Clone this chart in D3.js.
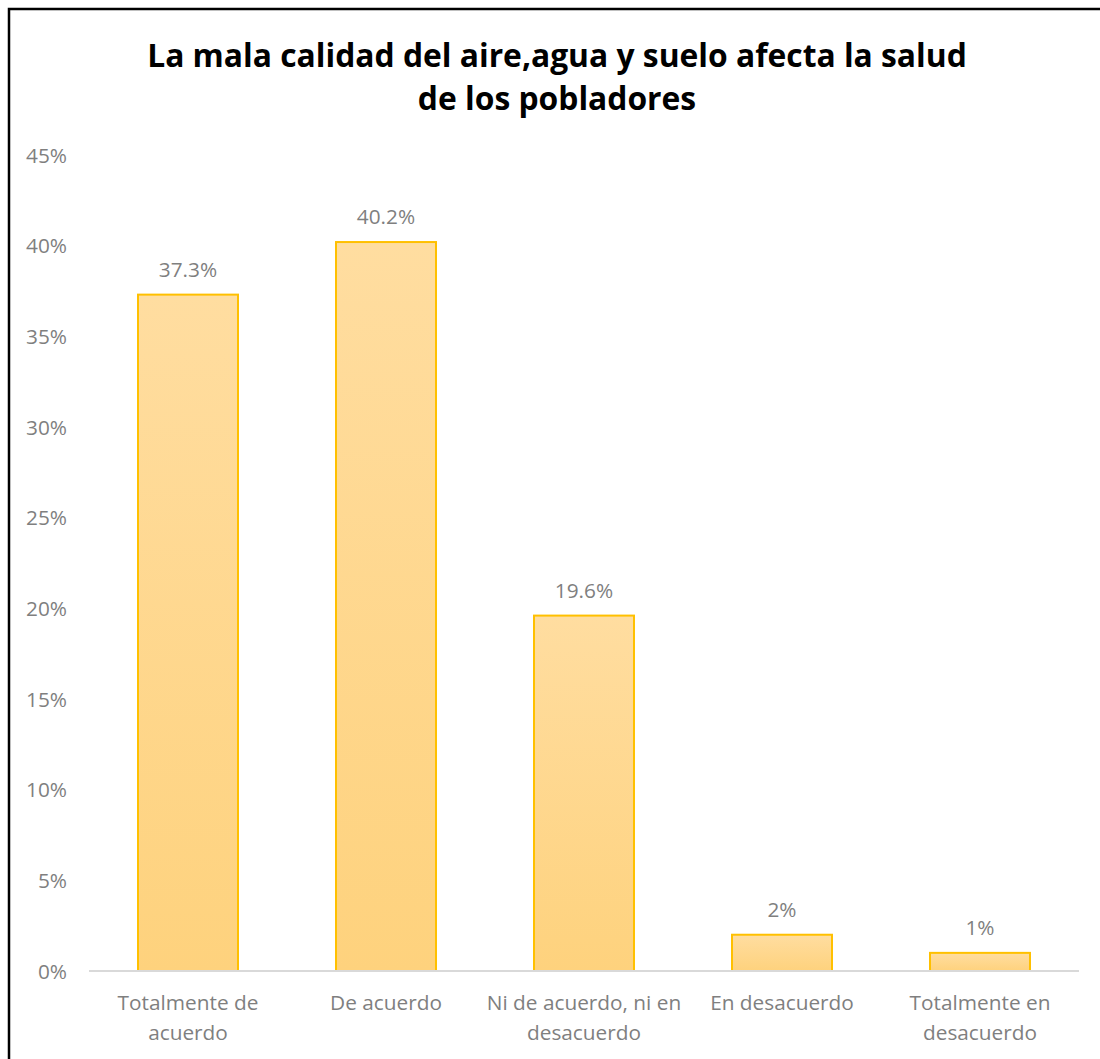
<!DOCTYPE html>
<html><head><meta charset="utf-8">
<script src="https://cdn.jsdelivr.net/npm/d3@7"></script>
<style>body{margin:0;background:#fff}svg{display:block}</style>
</head><body>
<script>
const categories = [["Totalmente de","acuerdo"],["De acuerdo"],["Ni de acuerdo, ni en","desacuerdo"],["En desacuerdo"],["Totalmente en","desacuerdo"]];
const values = [0.373, 0.402, 0.196, 0.02, 0.01];
const valueLabels = ["37.3%","40.2%","19.6%","2%","1%"];
const yTicks = [0,0.05,0.10,0.15,0.20,0.25,0.30,0.35,0.40,0.45];
const titleLines = ["La mala calidad del aire,agua y suelo afecta la salud","de los pobladores"];

const W=1100,H=1059;
const svg=d3.select("body").append("svg").attr("width",W).attr("height",H);
const defs=svg.append("defs");
const g=defs.append("linearGradient").attr("id","bg").attr("x1",0).attr("y1",0).attr("x2",0).attr("y2",1);
g.append("stop").attr("offset","0%").attr("stop-color","#FFDDA0");
g.append("stop").attr("offset","100%").attr("stop-color","#FED27D");

svg.append("rect").attr("x",9).attr("y",9).attr("width",W+20).attr("height",H+20).attr("fill","#fff").attr("stroke","#000").attr("stroke-width",2.5);

const font="'Open Sans', sans-serif";
const x=d3.scaleBand().domain(d3.range(categories.length)).range([89,1079]).paddingInner(0.495).paddingOuter(0.2475);
const y=d3.scaleLinear().domain([0,0.45]).range([971,155]);

svg.append("g").selectAll("text").data(titleLines).join("text")
 .attr("x",557).attr("y",(d,i)=>67+i*43).attr("text-anchor","middle")
 .attr("font-family",font).attr("font-weight","bold").attr("font-size",31.8).attr("fill","#000").text(d=>d);

const ya=d3.axisLeft(y).tickValues(yTicks).tickFormat(d3.format(".0%")).tickSize(0).tickPadding(0);
const yg=svg.append("g").attr("transform","translate(67,0)").call(ya);
yg.select(".domain").remove();
yg.selectAll("text").attr("font-family",font).attr("font-size",20.8).attr("fill","#7f7f7f").attr("dy","0.35em");

svg.append("g").selectAll("rect").data(values).join("rect")
 .attr("x",(d,i)=>x(i)).attr("width",x.bandwidth()).attr("y",d=>y(d)).attr("height",d=>y(0)-y(d))
 .attr("fill","url(#bg)").attr("stroke","#FFC000").attr("stroke-width",2);

svg.append("line").attr("x1",89).attr("x2",1079).attr("y1",y(0)).attr("y2",y(0)).attr("stroke","#d9d9d9").attr("stroke-width",2);

svg.append("g").selectAll("text").data(values).join("text")
 .attr("x",(d,i)=>x(i)+x.bandwidth()/2).attr("y",d=>y(d)-18).attr("text-anchor","middle")
 .attr("font-family",font).attr("font-size",20.8).attr("fill","#7f7f7f").text((d,i)=>valueLabels[i]);

const xa=d3.axisBottom(x).tickSize(0).tickFormat("");
const xg=svg.append("g").attr("transform",`translate(0,${y(0)})`).call(xa);
xg.select(".domain").remove();
categories.forEach((lines,i)=>{
  const t=svg.append("text").attr("x",x(i)+x.bandwidth()/2).attr("text-anchor","middle")
   .attr("font-family",font).attr("font-size",20.8).attr("fill","#7f7f7f");
  lines.forEach((l,j)=>t.append("tspan").attr("x",x(i)+x.bandwidth()/2).attr("y",1010+j*30).text(l));
});
</script>
</body></html>
